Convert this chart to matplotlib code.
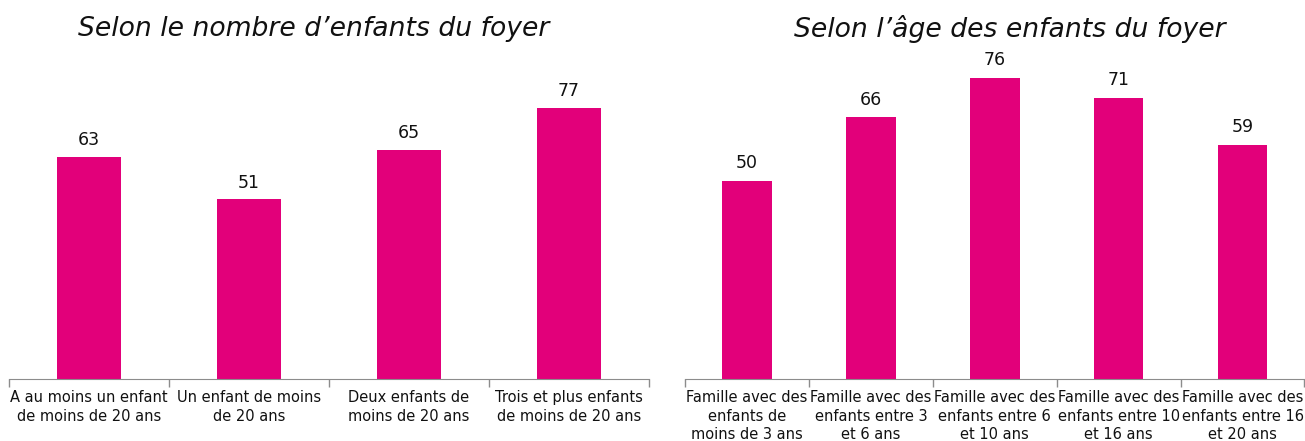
import matplotlib.pyplot as plt
import numpy as np

# Selon le nombre d'enfants du foyer
cats_nb = ['A au moins un enfant\nde moins de 20 ans', 'Un enfant de moins\nde 20 ans',
           'Deux enfants de\nmoins de 20 ans', 'Trois et plus enfants\nde moins de 20 ans']
vals_nb = [63, 51, 65, 77]

# Selon l'âge des enfants du foyer
cats_age = ['Famille avec des\nenfants de\nmoins de 3 ans', 'Famille avec des\nenfants entre 3\net 6 ans',
            'Famille avec des\nenfants entre 6\net 10 ans', 'Famille avec des\nenfants entre 10\net 16 ans',
            'Famille avec des\nenfants entre 16\net 20 ans']
vals_age = [50, 66, 76, 71, 59]

color = '#E2007A'

fig = plt.figure(figsize=(13.05, 4.41), dpi=100)
ax1 = fig.add_axes([0.0069, 0.1406, 0.4904, 0.7188])
ax2 = fig.add_axes([0.5249, 0.1406, 0.4747, 0.7188])


def draw(ax, cats, vals, ymax, title, title_x):
    x = np.arange(len(cats))
    ax.bar(x, vals, width=0.4, color=color)
    for xi, v in zip(x, vals):
        ax.text(xi, v + 2.2, str(v), ha='center', va='bottom', fontsize=12.5, color='#111111')
    ax.set_xlim(-0.5, len(cats) - 0.5)
    ax.set_ylim(0, ymax)
    ax.set_yticks([])
    for s in ['top', 'right', 'left']:
        ax.spines[s].set_visible(False)
    ax.spines['bottom'].set_color('#8c8c8c')
    # ticks between categories
    ax.set_xticks(np.arange(len(cats) + 1) - 0.5)
    ax.set_xticklabels([])
    ax.tick_params(axis='x', direction='out', length=6, color='#8c8c8c', width=1)
    ax.set_xticks(x, minor=True)
    ax.set_xticklabels(cats, minor=True, fontsize=10.5, color='#111111', linespacing=1.3)
    ax.tick_params(axis='x', which='minor', length=0, pad=8)
    fig.text(title_x, 0.935, title, ha='center', va='center', fontsize=19.2, style='italic', color='#111111')


draw(ax1, cats_nb, vals_nb, 90, 'Selon le nombre d\u2019enfants du foyer', 0.240)
draw(ax2, cats_age, vals_age, 80, 'Selon l\u2019âge des enfants du foyer', 0.774)

fig.savefig('out.png', dpi=100)
